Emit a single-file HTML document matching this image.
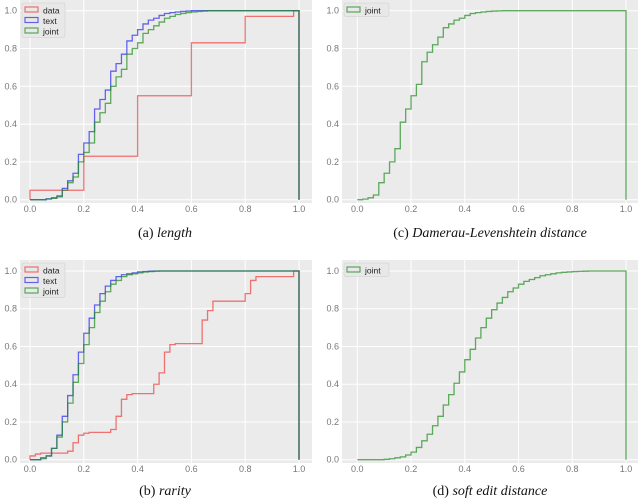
<!DOCTYPE html>
<html><head><meta charset="utf-8"><style>
body{margin:0;background:#fff;width:640px;height:504px;overflow:hidden}
.cap{position:absolute;font-family:"Liberation Serif",serif;font-size:14px;color:#111;white-space:nowrap;transform:translateX(-50%)}
</style></head><body>
<svg id="fig" width="640" height="504" style="position:absolute;left:0;top:0" font-family="Liberation Sans, sans-serif"></svg>
<div class="cap" style="left:165px;top:226px">(a) <i>length</i></div>
<div class="cap" style="left:490px;top:226px">(c) <i>Damerau-Levenshtein distance</i></div>
<div class="cap" style="left:165px;top:484px">(b) <i>rarity</i></div>
<div class="cap" style="left:490px;top:484px">(d) <i>soft edit distance</i></div>
<script>
const xTicks=["0.0","0.2","0.4","0.6","0.8","1.0"];
const yTicks=["0.0","0.2","0.4","0.6","0.8","1.0"];
const aText=[0,0,0,0.005,0.01,0.02,0.06,0.10,0.14,0.24,0.30,0.36,0.48,0.53,0.58,0.68,0.72,0.77,0.84,0.87,0.90,0.93,0.95,0.96,0.975,0.985,0.99,0.993,0.996,0.998];
const aJoint=[0,0,0,0.003,0.007,0.015,0.05,0.09,0.12,0.20,0.25,0.30,0.41,0.46,0.51,0.60,0.65,0.69,0.77,0.80,0.83,0.88,0.90,0.92,0.94,0.96,0.97,0.98,0.985,0.99,0.993,0.996,0.998];
const aDataEdges=[0,0.2,0.4,0.6,0.8,0.98,1.0];
const aDataVals=[0.05,0.23,0.55,0.83,0.97,1.0];
const bText=[0,0,0.01,0.02,0.06,0.13,0.23,0.34,0.45,0.57,0.67,0.75,0.82,0.88,0.92,0.95,0.97,0.98,0.985,0.99,0.995,0.997,0.999];
const bJoint=[0,0,0.005,0.02,0.06,0.12,0.20,0.30,0.41,0.51,0.61,0.70,0.78,0.84,0.89,0.93,0.95,0.97,0.98,0.985,0.99,0.995,0.997,0.999];
const bData=[0.02,0.03,0.035,0.035,0.035,0.035,0.035,0.045,0.09,0.13,0.14,0.145,0.145,0.145,0.145,0.16,0.23,0.32,0.345,0.35,0.35,0.35,0.35,0.40,0.46,0.57,0.61,0.615,0.615,0.615,0.615,0.615,0.74,0.79,0.84,0.84,0.84,0.84,0.84,0.84,0.88,0.95,0.97,0.97,0.97,0.97,0.97,0.97,0.97,1.0];
const cJoint=[0,0.003,0.01,0.025,0.09,0.14,0.20,0.27,0.41,0.48,0.55,0.61,0.73,0.78,0.82,0.86,0.91,0.93,0.95,0.96,0.975,0.985,0.99,0.993,0.996,0.998,0.999];
const dJoint=[0,0,0,0,0,0.002,0.005,0.01,0.015,0.025,0.04,0.065,0.10,0.135,0.18,0.23,0.29,0.345,0.405,0.465,0.53,0.585,0.645,0.70,0.75,0.795,0.83,0.86,0.89,0.91,0.93,0.945,0.955,0.965,0.975,0.98,0.985,0.99,0.993,0.995,0.997,0.998,0.999];
const NBINS=50;
const svg=document.getElementById('fig');
const NS='http://www.w3.org/2000/svg';
function mk(tag,attrs,parent){const e=document.createElementNS(NS,tag);for(const k in attrs)e.setAttribute(k,attrs[k]);(parent||svg).appendChild(e);return e;}
function pad(a){const r=a.slice();while(r.length<NBINS)r.push(1);return r;}
function binEdges(){const e=[];for(let i=0;i<=NBINS;i++)e.push(i/NBINS);return e;}
const COLORS={data:'rgba(240,60,60,0.7)',text:'rgba(40,40,240,0.7)',joint:'rgba(30,140,30,0.7)'};
function panel(id,box,series){
  const g=mk('g',{});
  
  
  const xs=v=>box.x0+(box.x1-box.x0)*v, ys=v=>box.y0+(box.y1-box.y0)*v;
  const bg=mk('rect',{x:box.bx,y:box.by,width:box.bw,height:box.bh,fill:'#ebebeb'},g);
  
  
  xTicks.forEach(t=>{const v=parseFloat(t);const X=xs(v);
    mk('line',{x1:X,x2:X,y1:box.by,y2:box.by+box.bh,stroke:'#fff','stroke-width':1},g);
    const tx=mk('text',{x:X,y:box.by+box.bh+9,'font-size':9,fill:'#777','text-anchor':'middle'},g);tx.textContent=t;
    
    });
  yTicks.forEach(t=>{const v=parseFloat(t);const Y=ys(v);
    mk('line',{x1:box.bx,x2:box.bx+box.bw,y1:Y,y2:Y,stroke:'#fff','stroke-width':1},g);
    const tx=mk('text',{x:box.bx-3,y:Y+3,'font-size':9,fill:'#777','text-anchor':'end'},g);tx.textContent=t;
    
    });
  series.forEach(s=>{
    let d='M'+xs(s.edges[0])+','+ys(0);
    for(let i=0;i<s.vals.length;i++){d+=' L'+xs(s.edges[i])+','+ys(s.vals[i])+' L'+xs(s.edges[i+1])+','+ys(s.vals[i]);}
    d+=' L'+xs(s.edges[s.vals.length])+','+ys(0);
    const p=mk('path',{d:d,fill:'none',stroke:COLORS[s.name],'stroke-width':1.3},g);
    
    
  });
  const lg=mk('g',{},g);
  
  
  const lx=box.bx+2,ly=box.by+3;
  const w=series.length===1?45:43;
  mk('rect',{x:lx,y:ly,width:w,height:series.length*10.5+3,fill:'#e8e8e8',stroke:'#ccc','stroke-width':0.5,rx:2},lg);
  series.forEach((s,i)=>{
    const yy=ly+3+i*10.5;
    mk('rect',{x:lx+3,y:yy+1,width:13,height:5,fill:'none',stroke:COLORS[s.name],'stroke-width':1.2},lg);
    const t=mk('text',{x:lx+21,y:yy+7.5,'font-size':8.5,fill:'#222'},lg);t.textContent=s.name;
    
    
  });
}
const E=binEdges();
panel('a',{bx:20,by:0,bw:292,bh:203,x0:30,x1:299,y0:199.7,y1:10.7},[
  {name:'data',edges:aDataEdges,vals:aDataVals},{name:'text',edges:E,vals:pad(aText)},{name:'joint',edges:E,vals:pad(aJoint)}]);
panel('c',{bx:342,by:0,bw:296,bh:203,x0:357.3,x1:626,y0:199.7,y1:10.7},[
  {name:'joint',edges:E,vals:pad(cJoint)}]);
panel('b',{bx:20,by:260,bw:292,bh:203,x0:30,x1:299,y0:459.7,y1:271},[
  {name:'data',edges:E,vals:pad(bData)},{name:'text',edges:E,vals:pad(bText)},{name:'joint',edges:E,vals:pad(bJoint)}]);
panel('d',{bx:342,by:260,bw:296,bh:203,x0:357.3,x1:626,y0:459.7,y1:271},[
  {name:'joint',edges:E,vals:pad(dJoint)}]);
</script>
</body></html>
